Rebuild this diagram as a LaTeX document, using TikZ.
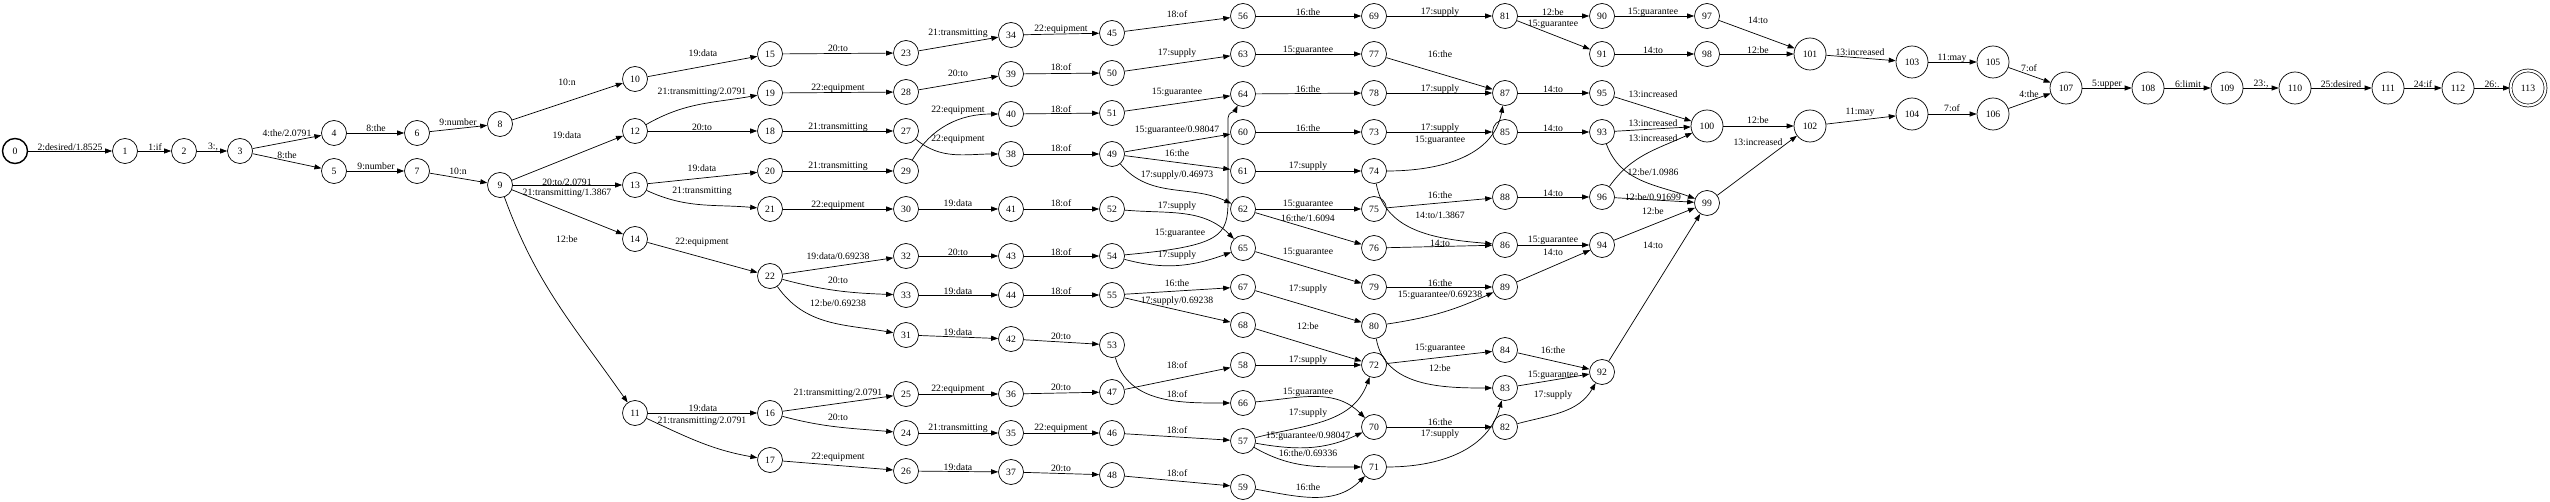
\documentclass[tikz,border=0pt]{standalone}
\usepackage{fontspec}
\setmainfont{Liberation Serif}
\usetikzlibrary{arrows.meta}

\tikzset{
  stnode/.style={circle, draw, line width=0.7pt, minimum size=25pt, inner sep=0pt},
  bignode/.style={stnode, minimum size=32pt},
  arr/.style={-{Triangle[length=7pt,width=5pt]}, line width=0.7pt},
  lbl/.style={inner sep=0pt}
}

\begin{document}
\begin{tikzpicture}[x=1pt, y=-1pt, font=\fontsize{9.7}{11}\selectfont]
\useasboundingbox (0,0) rectangle (2550,502);

\node[stnode, line width=1.4pt] (n0) at (15,151) {0};
\foreach \n/\x/\y in {1/125/151, 2/184/151, 3/240/151, 4/334/133, 5/334/171, 6/417/133, 7/417/171,
  8/500/124, 9/500/185, 10/635/79, 11/635/413, 12/635/131, 13/635/185, 14/635/239,
  15/770/54, 16/770/413, 17/770/460, 18/770/131, 19/770/93, 20/770/171, 21/770/209, 22/770/276,
  23/906/53, 24/906/433, 25/906/394, 26/906/471, 27/906/131, 28/906/92, 29/906/171, 30/906/209,
  31/906/335, 32/906/256, 33/906/295,
  34/1011/35, 35/1011/433, 36/1011/394, 37/1011/472, 38/1011/154, 39/1011/74, 40/1011/114,
  41/1011/209, 42/1011/339, 43/1011/256, 44/1011/295,
  45/1112/33, 46/1112/433, 47/1112/392, 48/1112/475, 49/1112/154, 50/1112/73, 51/1112/113,
  52/1112/209, 53/1112/345, 54/1112/256, 55/1112/295,
  56/1243/16, 57/1243/441, 58/1243/365, 59/1243/487, 60/1243/132, 61/1243/171, 62/1243/209,
  63/1243/54, 64/1243/94, 65/1243/248, 66/1243/403, 67/1243/287, 68/1243/325,
  69/1374/16, 70/1374/427, 71/1374/467, 72/1374/365, 73/1374/132, 74/1374/171, 75/1374/209,
  76/1374/248, 77/1374/54, 78/1374/93, 79/1374/287, 80/1374/326,
  81/1505/16, 82/1505/427, 83/1505/388, 84/1505/350, 85/1505/132, 86/1505/245, 87/1505/93,
  88/1505/197, 89/1505/287,
  90/1602/16, 91/1602/54, 92/1602/372, 93/1602/132, 94/1602/245, 95/1602/93, 96/1602/197,
  97/1707/16, 98/1707/54, 99/1707/203}
  \node[stnode] (n\n) at (\x,\y) {\n};
\foreach \n/\x/\y in {100/1707/126, 101/1810/54, 102/1810/126, 103/1912/62, 104/1912/114,
  105/1993/62, 106/1993/114, 107/2066/88, 108/2148/88, 109/2227/88, 110/2295/88,
  111/2388/88, 112/2458/88}
  \node[bignode] (n\n) at (\x,\y) {\n};
\node[bignode, minimum size=35pt, double, double distance=2.2pt] (n113) at (2528,88) {113};

% straight arcs
\foreach \a/\b/\lx/\ly/\txt in {0/1/70/147/{2:desired/1.8525}, 1/2/155/147/{1:if}, 2/3/213/147/{3:,},
  3/4/287/133/{4:the/2.0791}, 3/5/287/155/{8:the}, 4/6/376/128/{8:the}, 5/7/376/166/{9:number},
  6/8/458/122/{9:number}, 7/9/458/171/{10:n}, 8/10/567/82/{10:n}, 10/15/703/53/{19:data},
  9/12/567/135/{19:data}, 12/18/702/127/{20:to}, 13/20/702/168/{19:data},
  9/13/567/182/{20:to/2.0791}, 9/14/567/193/{21:transmitting/1.3867}, 14/22/702/242/{22:equipment},
  11/16/703/408/{19:data}, 22/32/838/256/{19:data/0.69238}, 16/25/838/393/{21:transmitting/2.0791},
  15/23/838/48/{20:to}, 19/28/838/88/{22:equipment}, 18/27/838/127/{21:transmitting},
  20/29/838/166/{21:transmitting}, 21/30/838/205/{22:equipment}, 17/26/838/457/{22:equipment},
  23/34/958/33/{21:transmitting}, 34/45/1061/29/{22:equipment}, 45/56/1177/14/{18:of},
  28/39/958/73/{20:to}, 39/50/1061/67/{18:of}, 50/63/1177/53/{17:supply},
  40/51/1061/109/{18:of}, 51/64/1177/92/{15:guarantee}, 38/49/1061/148/{18:of},
  49/60/1177/130/{15:guarantee/0.98047}, 49/61/1177/153/{16:the},
  30/41/958/203/{19:data}, 41/52/1061/203/{18:of}, 32/43/958/252/{20:to}, 43/54/1061/252/{18:of},
  33/44/958/291/{19:data}, 44/55/1061/291/{18:of}, 55/67/1177/283/{16:the},
  55/68/1177/301/{17:supply/0.69238}, 31/42/958/332/{19:data}, 42/53/1061/336/{20:to},
  47/58/1177/365/{18:of}, 25/36/958/389/{22:equipment}, 36/47/1061/387/{20:to},
  24/35/958/428/{21:transmitting}, 35/46/1061/428/{22:equipment}, 46/57/1177/430/{18:of},
  26/37/958/467/{19:data}, 37/48/1061/468/{20:to}, 48/59/1177/473/{18:of},
  56/69/1308/12/{16:the}, 69/81/1440/12/{17:supply}, 81/90/1553/12/{12:be},
  81/91/1553/24/{15:guarantee}, 90/97/1653/12/{15:guarantee}, 63/77/1308/50/{15:guarantee},
  77/87/1440/54/{16:the}, 91/98/1653/50/{14:to}, 64/78/1308/89/{16:the}, 78/87/1440/89/{17:supply},
  87/95/1553/89/{14:to}, 95/100/1653/94/{13:increased}, 60/73/1308/128/{16:the},
  73/85/1440/128/{17:supply}, 85/93/1553/128/{14:to}, 93/100/1653/123/{13:increased},
  61/74/1308/166/{17:supply}, 75/88/1440/195/{16:the}, 88/96/1553/193/{14:to},
  96/99/1653/197/{12:be/0.91699}, 94/99/1653/211/{12:be}, 62/75/1308/204/{15:guarantee},
  62/76/1308/218/{16:the/1.6094}, 76/86/1440/243/{14:to}, 86/94/1553/240/{15:guarantee},
  89/94/1553/252/{14:to}, 92/99/1653/245/{14:to}, 65/79/1308/252/{15:guarantee},
  67/80/1308/289/{17:supply}, 79/89/1440/283/{16:the}, 68/72/1308/326/{12:be},
  72/84/1440/348/{15:guarantee}, 84/92/1553/350/{16:the}, 58/72/1308/360/{17:supply},
  83/92/1553/375/{15:guarantee}, 70/82/1440/422/{16:the},
  97/101/1758/20/{14:to}, 98/101/1758/50/{12:be}, 101/103/1860/52/{13:increased},
  103/105/1952/58/{11:may}, 105/107/2029/68/{7:of}, 106/107/2029/94/{4:the},
  100/102/1758/120/{12:be}, 99/102/1758/142/{13:increased}, 102/104/1860/112/{11:may},
  104/106/1952/108/{7:of}, 107/108/2107/84/{5:upper}, 108/109/2188/84/{6:limit},
  109/110/2261/84/{23:,}, 110/111/2341/84/{25:desired}, 111/112/2423/84/{24:if},
  112/113/2492/84/{26:.}}
  \draw[arr] (n\a) -- (n\b) node[lbl] at (\lx,\ly) {\txt};

% curved arcs
\draw[arr] (n12) to[out=30,in=190] (n19) node[lbl] at (702,92) {21:transmitting/2.0791};
\draw[arr] (n13) to[out=-25,in=175] (n21) node[lbl] at (702,191) {21:transmitting};
\draw[arr] (n9) to[out=-70,in=125] (n11) node[lbl] at (567,239) {12:be};
\draw[arr] (n11) to[out=-25,in=170] (n17) node[lbl] at (702,421) {21:transmitting/2.0791};
\draw[arr] (n16) to[out=-15,in=175] (n24) node[lbl] at (838,417) {20:to};
\draw[arr] (n22) to[out=-15,in=178] (n33) node[lbl] at (838,280) {20:to};
\draw[arr] (n22) to[out=-55,in=170] (n31) node[lbl] at (838,303) {12:be/0.69238};
\draw[arr] (n29) to[out=60,in=180] (n40) node[lbl] at (958,110) {22:equipment};
\draw[arr] (n27) to[out=-40,in=180] (n38) node[lbl] at (958,139) {22:equipment};
\draw[arr] (n49) to[out=-50,in=155] (n62) node[lbl] at (1177,175) {17:supply/0.46973};
\draw[arr] (n52) to[out=-5,in=135] (n65) node[lbl] at (1177,206) {17:supply};
\draw[arr] (n54) .. controls (1222,246) and (1228,236) .. (1228,200) -- (1228,118)
  to[out=90,in=-115] (n64) node[lbl] at (1180,233) {15:guarantee};
\draw[arr] (n54) to[out=-15,in=-160] (n65) node[lbl] at (1177,255) {17:supply};
\draw[arr] (n53) to[out=-75,in=180] (n66) node[lbl] at (1177,394) {18:of};
\draw[arr] (n57) to[out=15,in=-110] (n72) node[lbl] at (1308,413) {17:supply};
\draw[arr] (n57) to[out=-10,in=-155] (n70) node[lbl] at (1308,436) {15:guarantee/0.98047};
\draw[arr] (n57) to[out=-30,in=180] (n71) node[lbl] at (1308,453) {16:the/0.69336};
\draw[arr] (n59) to[out=-10,in=-135] (n71) node[lbl] at (1308,487) {16:the};
\draw[arr] (n66) to[out=5,in=135] (n70) node[lbl] at (1308,392) {15:guarantee};
\draw[arr] (n74) to[out=0,in=-100] (n87) node[lbl] at (1440,140) {15:guarantee};
\draw[arr] (n74) to[out=-80,in=175] (n86) node[lbl] at (1440,215) {14:to/1.3867};
\draw[arr] (n80) to[bend right=8] (n89) node[lbl] at (1440,295) {15:guarantee/0.69238};
\draw[arr] (n80) to[out=-80,in=180] (n83) node[lbl] at (1440,368) {12:be};
\draw[arr] (n71) to[out=0,in=-105] (n83) node[lbl] at (1440,434) {17:supply};
\draw[arr] (n82) to[out=15,in=-120] (n92) node[lbl] at (1553,395) {17:supply};
\draw[arr] (n93) to[out=-70,in=160] (n99) node[lbl] at (1653,172) {12:be/1.0986};
\draw[arr] (n96) to[out=55,in=-155] (n100) node[lbl] at (1653,138) {13:increased};
\end{tikzpicture}
\end{document}
